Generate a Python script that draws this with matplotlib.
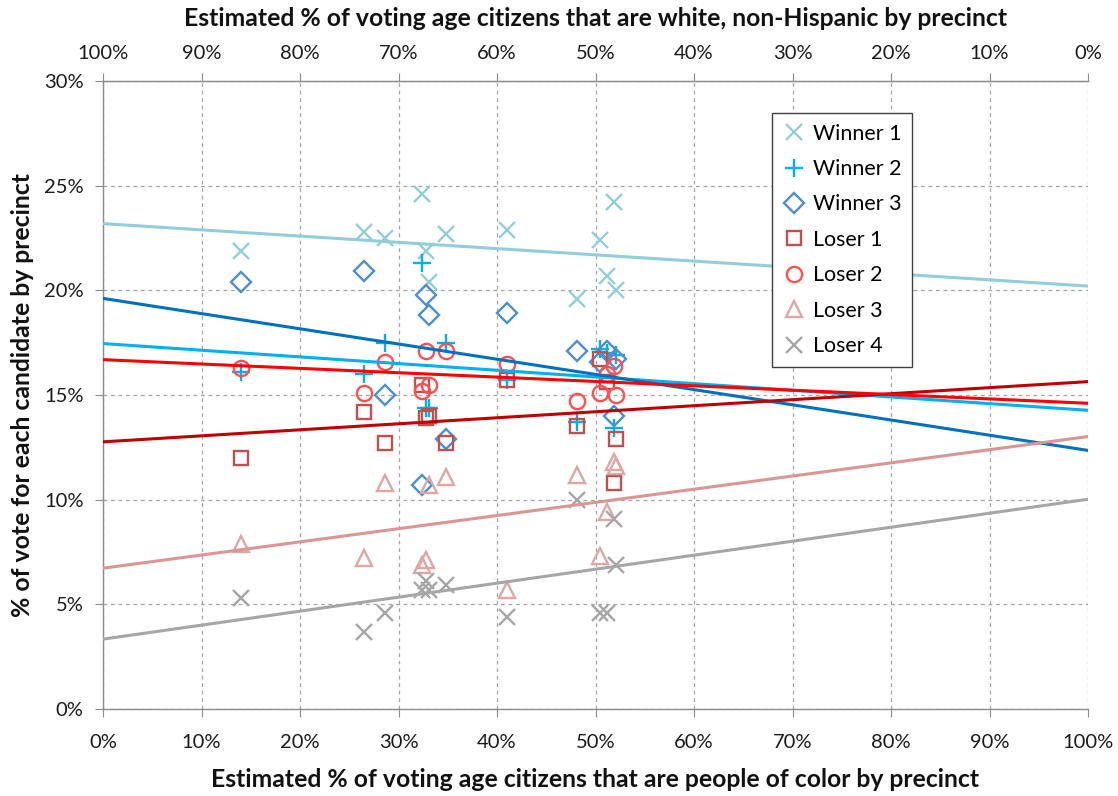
import numpy as np
import matplotlib
matplotlib.use("Agg")
import matplotlib.pyplot as plt
from matplotlib.ticker import MultipleLocator, FixedLocator, FuncFormatter

plt.rcParams['font.family'] = ['Lato', 'DejaVu Sans']

# Estimated share of voting-age citizens who are people of color, per precinct (%)
poc_share = [14.0, 26.5, 28.6, 32.4, 32.8, 33.1, 34.8, 41.0, 48.1, 50.5, 51.2, 51.9, 52.1]

# Vote share of each candidate per precinct (%)
winner1 = [21.9, 22.8, 22.5, 24.6, 21.9, 20.4, 22.7, 22.9, 19.6, 22.4, 20.7, 24.2, 20.0]
winner2 = [16.1, 16.0, 17.5, 21.3, 14.4, 14.4, 17.5, 15.7, 13.7, 17.2, 17.0, 13.4, 16.9]
winner3 = [20.4, 20.9, 15.0, 10.7, 19.8, 18.8, 12.9, 18.9, 17.1, 16.6, 17.1, 14.0, 16.7]
loser1 = [12.0, 14.2, 12.7, 15.5, 13.9, 14.0, 12.7, 15.7, 13.5, 16.7, 15.6, 10.8, 12.9]
loser2 = [16.3, 15.1, 16.6, 15.2, 17.1, 15.5, 17.1, 16.5, 14.7, 15.1, 16.0, 16.4, 15.0]
loser3 = [7.9, 7.2, 10.8, 6.9, 7.1, 10.7, 11.1, 5.7, 11.2, 7.3, 9.4, 11.8, 11.6]
loser4 = [5.3, 3.7, 4.6, 5.7, 6.1, 5.7, 5.9, 4.4, 10.0, 4.6, 4.6, 9.1, 6.9]

series_names = ["Winner 1", "Winner 2", "Winner 3", "Loser 1", "Loser 2", "Loser 3", "Loser 4"]
series_values = [winner1, winner2, winner3, loser1, loser2, loser3, loser4]

# marker, marker size, marker colour, trendline colour
styles = [
    ("x", 12, "#92CDDC", "#92CDDC"),
    ("+", 13.5, "#00B0F0", "#00B0F0"),
    ("D", 10, "#4A8FD0", "#0070C0"),
    ("s", 10, "#C0504D", "#C00000"),
    ("o", 11, "#FF4F4F", "#FF0000"),
    ("^", 11.5, "#E0A6A4", "#D99694"),
    ("x", 12, "#A6A6A6", "#A6A6A6"),
]

fig = plt.figure(figsize=(11.18, 7.96), dpi=100)
ax = fig.add_axes([103 / 1118, 1 - 709 / 796, 985 / 1118, 628 / 796])

x = np.array(poc_share)
xs = np.array([0.0, 100.0])
handles = []
for name, vals, (mk, ms, mc, lc) in zip(series_names, series_values, styles):
    h, = ax.plot(x, vals, linestyle="none", marker=mk, markersize=ms,
                 markerfacecolor="none", markeredgecolor=mc,
                 markeredgewidth=1.7, label=name, zorder=3)
    handles.append(h)
    # least-squares linear trendline across the full axis range
    slope, intercept = np.polyfit(x, np.array(vals), 1)
    ax.plot(xs, intercept + slope * xs, color=lc, linewidth=2.2, zorder=4)

ticks = np.arange(0, 101, 10)
ax.set_xlim(0, 100)
ax.set_ylim(0, 30)
ax.xaxis.set_major_locator(FixedLocator(ticks))
ax.yaxis.set_major_locator(MultipleLocator(5))
pct = FuncFormatter(lambda v, p: f"{v:.0f}%")
ax.xaxis.set_major_formatter(pct)
ax.yaxis.set_major_formatter(pct)

grid_kw = dict(color="#A6A6A6", linestyle=(0, (3, 3)), linewidth=0.9)
ax.grid(True, **grid_kw)
ax.set_axisbelow(True)

for side in ("left", "bottom", "top"):
    ax.spines[side].set_color("#8C8C8C")
    ax.spines[side].set_linewidth(1.0)
ax.spines["right"].set_visible(False)

ax.tick_params(axis="both", which="major", direction="out", length=6,
               color="#8C8C8C", labelsize=14.5, labelcolor="#1A1A1A", pad=8)
ax.tick_params(axis="x", pad=12)

top = ax.secondary_xaxis("top", functions=(lambda v: 100 - v, lambda v: 100 - v))
top.xaxis.set_major_locator(FixedLocator(ticks))
top.xaxis.set_major_formatter(pct)
top.tick_params(direction="out", length=6, color="#8C8C8C", labelsize=14.5,
                labelcolor="#1A1A1A", pad=8)
top.spines["top"].set_color("#8C8C8C")
top.set_xlabel("Estimated % of voting age citizens that are white, non-Hispanic by precinct",
               fontsize=17.8, fontweight="bold", color="#111111", labelpad=13)

ax.set_xlabel("Estimated % of voting age citizens that are people of color by precinct",
              fontsize=17.8, fontweight="bold", color="#111111", labelpad=12)
ax.set_ylabel("% of vote for each candidate by precinct",
              fontsize=17.8, fontweight="bold", color="#111111", labelpad=7)

leg = ax.legend(handles=handles, loc="upper left",
                bbox_to_anchor=(772 / 1118, 1 - 113 / 796),
                bbox_transform=fig.transFigure, fontsize=15.4,
                frameon=True, fancybox=False, edgecolor="#404040",
                framealpha=1.0, borderpad=0.5, labelspacing=0.72,
                handlelength=1.1, handletextpad=0.3, borderaxespad=0)
leg.get_frame().set_linewidth(1.0)
leg.set_zorder(10)

fig.savefig("out.png", dpi=100, facecolor="white")
